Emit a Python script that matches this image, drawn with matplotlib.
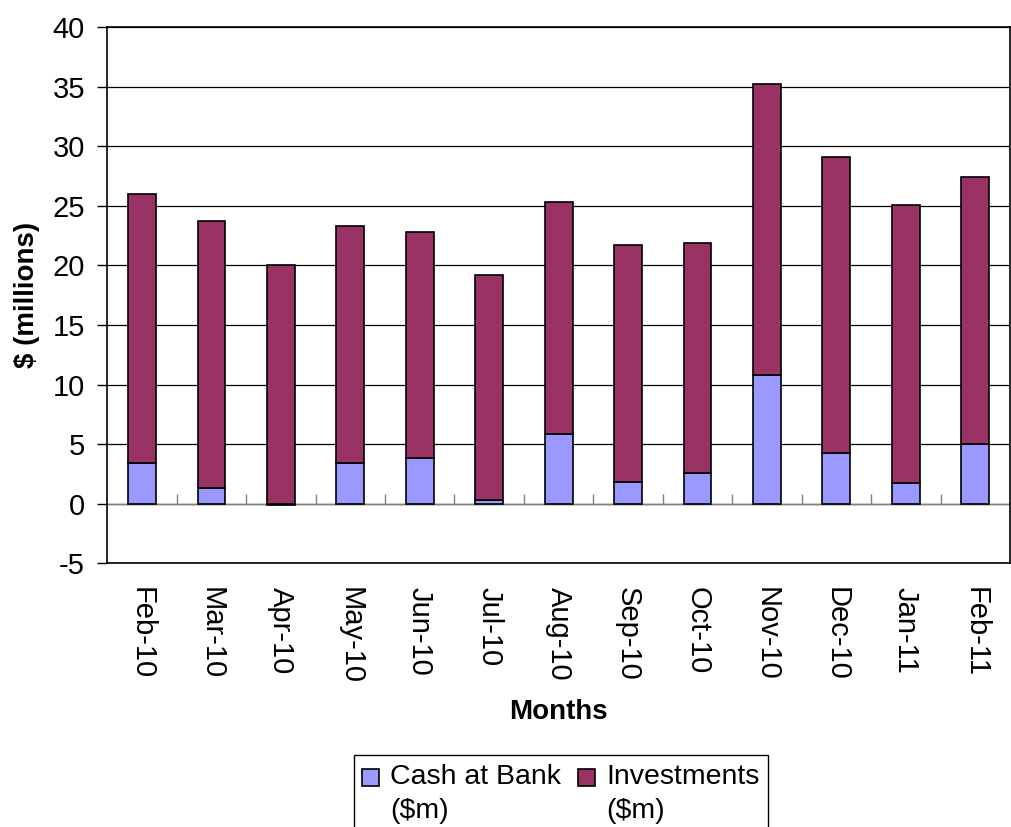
import numpy as np
import matplotlib.pyplot as plt
from matplotlib.patches import Rectangle
from matplotlib.container import BarContainer
from matplotlib.legend_handler import HandlerPatch

plt.rcParams['font.family'] = ['Liberation Sans', 'DejaVu Sans']
plt.rcParams['axes.unicode_minus'] = False

months = ['Feb-10', 'Mar-10', 'Apr-10', 'May-10', 'Jun-10', 'Jul-10', 'Aug-10',
          'Sep-10', 'Oct-10', 'Nov-10', 'Dec-10', 'Jan-11', 'Feb-11']
# Cash at Bank ($m)
cash = [3.4, 1.3, -0.1, 3.4, 3.85, 0.3, 5.85, 1.85, 2.55, 10.8, 4.25, 1.7, 5.0]
# Investments ($m), stacked on top of cash
investments = [22.6, 22.45, 20.0, 19.9, 18.95, 18.9, 19.45, 19.9, 19.35, 24.45, 24.9, 23.4, 22.4]

CASH_COLOR = '#9999FF'
INV_COLOR = '#993366'
FS = 21


def top_square(legend, orig_handle, xdescent, ydescent, width, height, fontsize):
    # legend key sits next to the first line of a two-line label
    s = 0.58 * fontsize
    return Rectangle((-xdescent, 0.62 * fontsize), s, s)


def copy_first_bar(legend_handle, orig_handle):
    legend_handle.update_from(orig_handle.patches[0])


fig = plt.figure(figsize=(10.12, 8.27), dpi=100)
ax = fig.add_axes([0.106, 0.319, 0.892, 0.648])

x = np.arange(len(months))
cash = np.array(cash)
investments = np.array(investments)
inv_bottom = np.where(cash > 0, cash, 0)

ax.bar(x, cash, width=0.4, color=CASH_COLOR, edgecolor='black', linewidth=1.2,
       label='Cash at Bank\n($m)', zorder=3)
ax.bar(x, investments, width=0.4, bottom=inv_bottom, color=INV_COLOR,
       edgecolor='black', linewidth=1.2, label='Investments\n($m)', zorder=3)

ax.set_xlim(-0.5, len(months) - 0.5)
ax.set_ylim(-5, 40)
ax.set_yticks(np.arange(-5, 41, 5))
ax.yaxis.grid(True, color='black', linewidth=0.9)
ax.set_axisbelow(True)

# x axis crosses at zero with small tick marks between categories
ax.axhline(0, color='#808080', linewidth=1.0, zorder=2)
ax.vlines(np.arange(0.5, len(months) - 0.5), 0, 0.8, color='#808080', linewidth=1.0, zorder=2)

ax.set_xticks(x)
ax.set_xticklabels(months, rotation=-90, fontsize=FS)
ax.tick_params(axis='x', length=0, pad=17)
ax.tick_params(axis='y', labelsize=FS, length=7, width=1.0, direction='out', pad=9)

for side in ['left', 'bottom', 'top', 'right']:
    ax.spines[side].set_linewidth(1.2)
    ax.spines[side].set_color('black')

ax.set_ylabel('$ (millions)', fontsize=20, fontweight='bold', labelpad=9)
ax.set_xlabel('Months', fontsize=20, fontweight='bold', labelpad=11)

leg = fig.legend(loc='upper center', bbox_to_anchor=(0.5544, 0.0871), ncol=2,
                 fontsize=20.5, frameon=True, fancybox=False, edgecolor='black',
                 handlelength=0.6, handletextpad=0.38, borderaxespad=0,
                 columnspacing=0.6, borderpad=0.3, framealpha=1,
                 handler_map={BarContainer: HandlerPatch(patch_func=top_square,
                                                         update_func=copy_first_bar)})
leg.get_frame().set_linewidth(1.0)
for t in leg.get_texts():
    t.set_linespacing(1.4)

fig.savefig('out.png', dpi=100)
